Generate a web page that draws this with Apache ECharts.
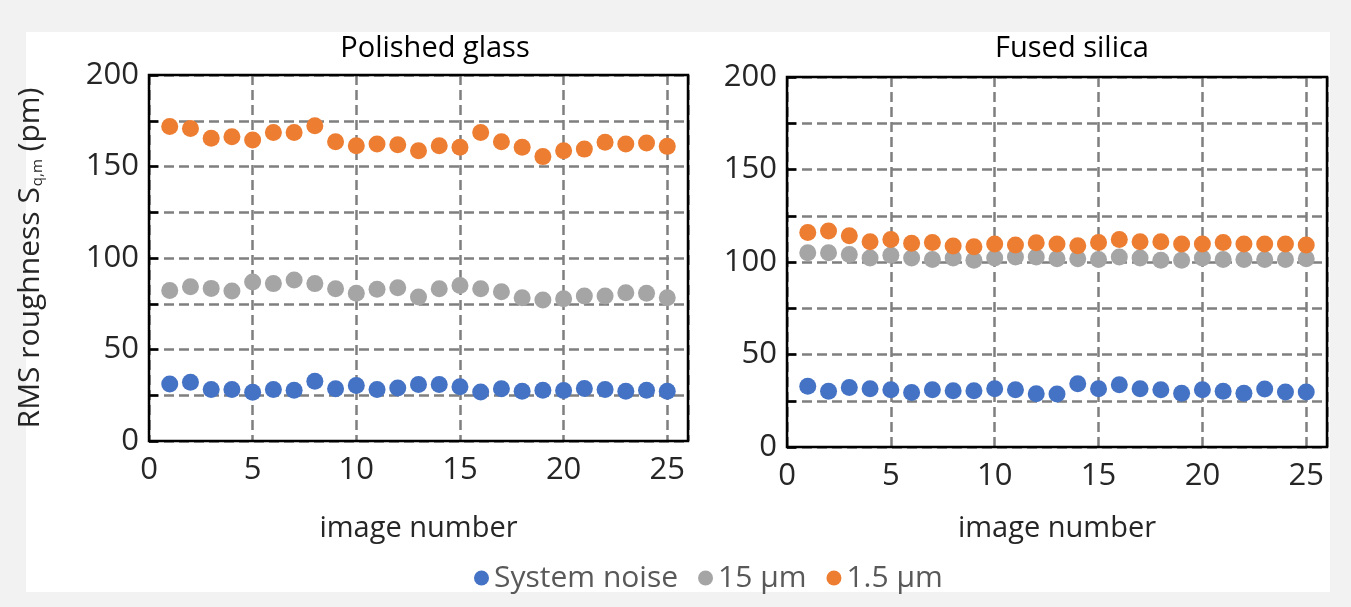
<!DOCTYPE html>
<html>
<head>
<meta charset="utf-8">
<script src="https://cdn.jsdelivr.net/npm/echarts@6/dist/echarts.min.js"></script>
<style>
  html, body { margin: 0; padding: 0; background: #f2f2f2; }
  #chart { width: 1351px; height: 607px; }
</style>
</head>
<body>
<div id="chart"></div>
<script>
var imageNumber = [1, 2, 3, 4, 5, 6, 7, 8, 9, 10, 11, 12, 13, 14, 15, 16, 17, 18, 19, 20, 21, 22, 23, 24, 25];
var seriesNames = ['System noise', '15 µm', '1.5 µm'];
var panelTitles = ['Polished glass', 'Fused silica'];

// Polished glass
var glassNoise = [31.2, 32.1, 28.1, 28.1, 26.6, 28.1, 27.7, 32.7, 28.5, 30.3, 28.1, 29.0, 30.9, 30.9, 29.6, 26.8, 28.5, 27.2, 27.7, 27.6, 28.7, 28.1, 27.2, 27.7, 27.2];
var glass15 = [82.3, 84.3, 83.4, 82.0, 86.9, 86.0, 88.0, 86.0, 83.2, 80.7, 82.9, 83.8, 78.7, 83.2, 85.0, 83.2, 81.6, 78.3, 77.0, 77.7, 79.2, 79.2, 81.0, 80.7, 78.3];
var glass1p5 = [171.9, 170.8, 165.4, 166.3, 164.5, 168.6, 168.6, 172.3, 163.5, 161.4, 162.3, 161.9, 158.6, 161.4, 160.5, 168.6, 163.5, 160.5, 155.4, 158.6, 159.5, 163.2, 162.3, 162.8, 161.0];

// Fused silica
var silicaNoise = [32.8, 30.1, 32.2, 31.5, 30.9, 29.5, 30.9, 30.4, 30.4, 31.5, 30.9, 28.8, 28.6, 34.2, 31.5, 33.7, 31.5, 30.9, 29.1, 30.9, 30.1, 29.1, 31.3, 29.7, 29.7];
var silica15 = [105.0, 105.0, 104.0, 102.2, 103.6, 102.2, 101.4, 102.2, 100.9, 102.2, 102.7, 102.7, 101.8, 101.8, 101.4, 102.7, 102.2, 100.9, 100.9, 102.2, 101.3, 101.3, 101.3, 101.3, 101.8];
var silica1p5 = [116.0, 116.7, 114.2, 111.0, 112.2, 110.1, 110.6, 108.6, 108.3, 109.7, 109.2, 110.4, 109.7, 108.8, 110.6, 112.2, 111.0, 111.0, 109.7, 109.7, 110.6, 109.7, 109.7, 109.7, 109.2];

var colors = ['#4472C4', '#A5A5A5', '#ED7D31'];
var fontFamily = '"Open Sans", "Noto Sans", sans-serif';

function pairs(ys) {
    var out = [];
    for (let i = 0; i < ys.length; i++) {
        out.push([imageNumber[i], ys[i]]);
    }
    return out;
}

var dashLine = { show: true, lineStyle: { color: '#7f7f7f', width: 2.5, type: [10, 5] } };

function xAxisFor(gi, gap) {
    return {
        type: 'value', gridIndex: gi, min: 0, max: 26, interval: 5,
        name: 'image number', nameLocation: 'middle', nameGap: gap,
        nameTextStyle: { fontSize: 29, color: '#262626', fontFamily: fontFamily },
        axisLine: { show: false },
        axisTick: { show: false },
        axisLabel: { showMaxLabel: false, fontSize: 31, color: '#262626', margin: 14, fontFamily: fontFamily },
        splitLine: dashLine
    };
}

function yAxisFor(gi, withName) {
    var ax = {
        type: 'value', gridIndex: gi, min: 0, max: 200, interval: 25,
        axisLine: { show: false },
        axisTick: { show: true, inside: true, length: 9, lineStyle: { color: '#000', width: 2.5 } },
        axisLabel: {
            fontSize: 31, color: '#262626', margin: 10, fontFamily: fontFamily,
            formatter: function (v) { return v % 50 === 0 ? v : ''; }
        },
        splitLine: dashLine
    };
    if (withName) {
        ax.name = '{m|RMS roughness S}{s|q,m}{m| (pm)}';
        ax.nameLocation = 'middle';
        ax.nameGap = 104;
        ax.nameTextStyle = {
            rich: {
                m: { fontSize: 30, color: '#262626', fontFamily: fontFamily, lineHeight: 38, verticalAlign: 'bottom' },
                s: { fontSize: 15, color: '#262626', fontFamily: fontFamily, lineHeight: 38, verticalAlign: 'bottom', padding: [0, 0, 0, 1] }
            }
        };
    }
    return ax;
}

function scatter(name, gi, ys, color) {
    return {
        name: name, type: 'scatter', xAxisIndex: gi, yAxisIndex: gi,
        symbol: 'circle', symbolSize: 17,
        itemStyle: { color: color, opacity: 1 },
        data: pairs(ys)
    };
}

var chart = echarts.init(document.getElementById('chart'));
var option = {
    animation: false,
    backgroundColor: '#f2f2f2',
    graphic: [{
        type: 'rect', z: -10,
        shape: { x: 26, y: 32, width: 1304, height: 560 },
        style: { fill: '#ffffff' }
    }],
    title: [
        { text: panelTitles[0], left: 430, top: 29, textAlign: 'center', textStyle: { fontSize: 29, fontWeight: 'normal', color: '#000', fontFamily: fontFamily } },
        { text: panelTitles[1], left: 1067, top: 29, textAlign: 'center', textStyle: { fontSize: 29, fontWeight: 'normal', color: '#000', fontFamily: fontFamily } }
    ],
    legend: {
        data: seriesNames,
        left: 469, top: 558,
        icon: 'circle', itemWidth: 15, itemHeight: 15, itemGap: 20,
        textStyle: { fontSize: 30, color: '#595959', fontFamily: fontFamily, padding: [0, 0, 0, 0] }
    },
    grid: [
        { left: 149, top: 75, width: 539, height: 366, show: true, z: 10, borderColor: '#000', borderWidth: 2.5, backgroundColor: 'transparent' },
        { left: 787, top: 77, width: 540, height: 370, show: true, z: 10, borderColor: '#000', borderWidth: 2.5, backgroundColor: 'transparent' }
    ],
    xAxis: [xAxisFor(0, 73), xAxisFor(1, 67)],
    yAxis: [yAxisFor(0, true), yAxisFor(1, false)],
    series: [
        scatter(seriesNames[0], 0, glassNoise, colors[0]),
        scatter(seriesNames[1], 0, glass15, colors[1]),
        scatter(seriesNames[2], 0, glass1p5, colors[2]),
        scatter(seriesNames[0], 1, silicaNoise, colors[0]),
        scatter(seriesNames[1], 1, silica15, colors[1]),
        scatter(seriesNames[2], 1, silica1p5, colors[2])
    ]
};
chart.setOption(option);
</script>
</body>
</html>
